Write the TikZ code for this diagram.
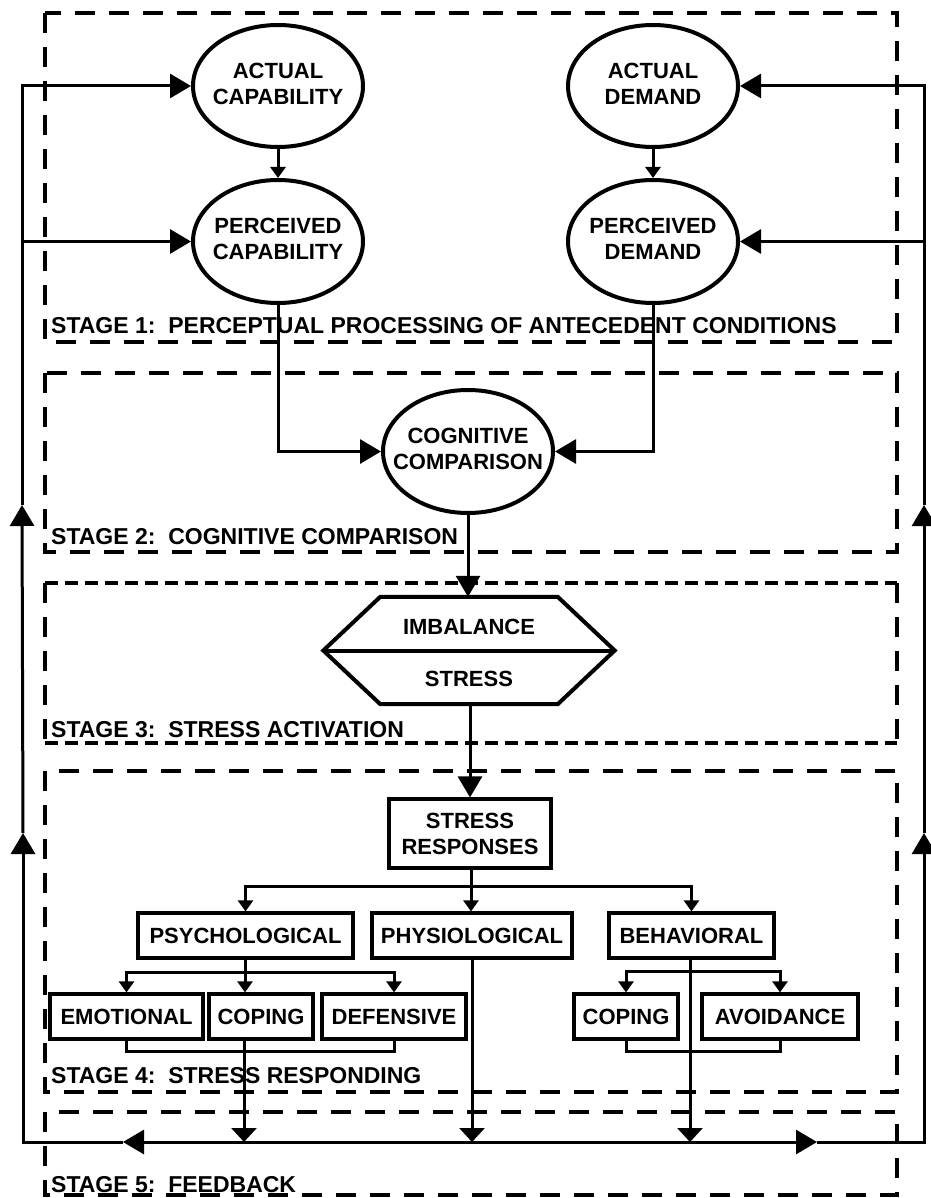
\documentclass[tikz,border=0pt]{standalone}
\usepackage{fontspec}
\setmainfont{Liberation Sans}
\usetikzlibrary{arrows.meta,shapes.geometric}
\begin{document}
\begin{tikzpicture}[x=1pt,y=-1pt,
  nodefont/.style={font=\bfseries\fontsize{22}{26}\selectfont},
  ell/.style={ellipse,draw,line width=4pt,fill=white,inner sep=0pt,minimum width=170pt,minimum height=122pt,nodefont},
  box/.style={draw,line width=3.2pt,fill=white,inner sep=0pt,minimum height=45pt,nodefont,align=center},
  stagebox/.style={line width=4.5pt,dash pattern=on 20pt off 14pt},
  densedash/.style={line width=4.5pt,dash pattern=on 13pt off 7pt},
  stagelabel/.style={font=\bfseries\fontsize{23}{27}\selectfont,anchor=base west,inner sep=0pt},
  conn/.style={line width=3pt},
  big/.style={-{Triangle[length=21pt,width=24pt]}},
  feed/.style={-{Triangle[length=14pt,width=25pt]}},
  small/.style={-{Triangle[length=11pt,width=15pt]}}
]
\useasboundingbox (0,0) rectangle (930,1198);

% stage boxes
\draw[stagebox] (45,13) rectangle (897,342);
\draw[stagebox] (45,373) rectangle (897,552);
\draw[densedash] (45,583) -- (897,583);
\draw[densedash] (45,743) -- (897,743);
\draw[stagebox] (45,583) -- (45,743);
\draw[stagebox] (897,583) -- (897,743);
\draw[stagebox] (45,771) rectangle (897,1092);
\draw[stagebox] (45,1112) rectangle (897,1195);

% stage labels
\node[stagelabel] (l1) at (51,333) {STAGE 1:~~PERCEPTUAL PROCESSING OF ANTECEDENT CONDITIONS};
\node[stagelabel] (l2) at (51,544) {STAGE 2:~~COGNITIVE COMPARISON};
\node[stagelabel] (l3) at (51,737) {STAGE 3:~~STRESS ACTIVATION};
\node[stagelabel] (l4) at (51,1083) {STAGE 4:~~STRESS RESPONDING};
\node[stagelabel] (l5) at (51,1192) {STAGE 5:~~FEEDBACK};

% stage 1 nodes
\node[ell] (AC) at (278,86) {\makebox[0pt]{\begin{tabular}{@{}c@{}}ACTUAL\\CAPABILITY\end{tabular}}};
\node[ell,minimum height=123pt] (PC) at (278,241.5) {\makebox[0pt]{\begin{tabular}{@{}c@{}}PERCEIVED\\CAPABILITY\end{tabular}}};
\node[ell] (AD) at (653,86) {\makebox[0pt]{\begin{tabular}{@{}c@{}}ACTUAL\\DEMAND\end{tabular}}};
\node[ell,minimum height=123pt] (PD) at (653,241.5) {\makebox[0pt]{\begin{tabular}{@{}c@{}}PERCEIVED\\DEMAND\end{tabular}}};

% stage 2
\node[ell,minimum height=123pt] (COG) at (468,451.5) {\makebox[0pt]{\begin{tabular}{@{}c@{}}COGNITIVE\\COMPARISON\end{tabular}}};

% stage 3 hexagon
\node[minimum width=291pt,minimum height=107pt,inner sep=0pt] (hex) at (469,650.5) {};
\draw[line width=4pt,fill=white] ([xshift=57pt]hex.north west) -- ([xshift=-57pt]hex.north east) -- (hex.east)
  -- ([xshift=-57pt]hex.south east) -- ([xshift=57pt]hex.south west) -- (hex.west) -- cycle;
\draw[line width=4pt] (hex.west) -- (hex.east);
\node[nodefont] (imb) at (469,627) {IMBALANCE};
\node[nodefont] (str) at (469,679) {STRESS};

% stage 4 boxes
\node[box,minimum width=162pt,minimum height=69pt] (SR) at (470,833.5) {STRESS\\RESPONSES};
\node[box,minimum width=215pt] (PSY) at (245.5,935.5) {PSYCHOLOGICAL};
\node[box,minimum width=200pt] (PHY) at (472,935.5) {PHYSIOLOGICAL};
\node[box,minimum width=165pt] (BEH) at (691.5,935.5) {BEHAVIORAL};
\node[box,minimum width=153pt] (EMO) at (126.5,1016.5) {EMOTIONAL};
\node[box,minimum width=104pt] (COP1) at (261,1016.5) {COPING};
\node[box,minimum width=144pt] (DEF) at (394,1016.5) {DEFENSIVE};
\node[box,minimum width=104pt] (COP2) at (626,1016.5) {COPING};
\node[box,minimum width=156pt] (AVO) at (780,1016.5) {AVOIDANCE};

% stage 1 connectors
\draw[conn,small] (AC.south) -- (PC.north);
\draw[conn,small] (AD.south) -- (PD.north);
\draw[conn,big] (PC.south) |- (COG.west);
\draw[conn,big] (PD.south) |- (COG.east);
\draw[conn,big] (COG.south) -- (COG.south |- hex.north);
\draw[conn,big] (SR.north |- hex.south) -- (SR.north);

% stress responses branch
\coordinate (srj) at (471,886);
\draw[conn] (SR.south -| srj) -- (srj);
\draw[conn,small] (srj) -| (PSY.north);
\draw[conn,small] (srj) -| (BEH.north);
\draw[conn,small] (srj) -- (srj |- PHY.north);

% psychological branch
\coordinate (psj) at (245,972);
\draw[conn] (PSY.south -| psj) -- (psj);
\draw[conn,small] (psj) -| (EMO.north);
\draw[conn,small] (psj) -| (DEF.north);
\draw[conn,small] (psj) -- (psj |- COP1.north);
\draw[conn] (EMO.south) -- ++(0,11) -| (DEF.south);

% behavioral branch
\coordinate (bhj) at (690,971);
\draw[conn,small] (bhj) -| (COP2.north);
\draw[conn,small] (bhj) -| (AVO.north);
\draw[conn] (COP2.south) -- ++(0,11) -| (AVO.south);

% feedback
\coordinate (hubC) at (244,1142);
\coordinate (hubP) at (472,1142);
\coordinate (hubB) at (690,1142);
\coordinate (fbL) at (23,1142);
\coordinate (fbR) at (924,1142);
\coordinate (fbA1) at (123,1142);
\coordinate (fbA2) at (817,1142);
\coordinate (upL1) at (23,833);
\coordinate (upL2) at (22,505);
\coordinate (upR1) at (924,833);
\coordinate (upR2) at (924,505);

\draw[conn,feed] (COP1.south -| hubC) -- (hubC);
\draw[conn,feed] (PHY.south) -- (hubP);
\draw[conn,feed] (BEH.south -| hubB) -- (hubB);

\draw[conn] (hubC) -- (hubB);
\draw[conn,big] (hubC) -- (fbA1);
\draw[conn,big] (fbA1) -- (fbL) -- (upL1);
\draw[conn,big] (upL1) -- (upL2);
\draw[conn,big] (upL2) |- (AC.west);
\draw[conn,big] (upL2 |- PC.west) -- (PC.west);

\draw[conn,big] (hubB) -- (fbA2);
\draw[conn,big] (fbA2) -- (fbR) -- (upR1);
\draw[conn,big] (upR1) -- (upR2);
\draw[conn,big] (upR2) |- (AD.east);
\draw[conn,big] (upR2 |- PD.east) -- (PD.east);
\end{tikzpicture}
\end{document}
